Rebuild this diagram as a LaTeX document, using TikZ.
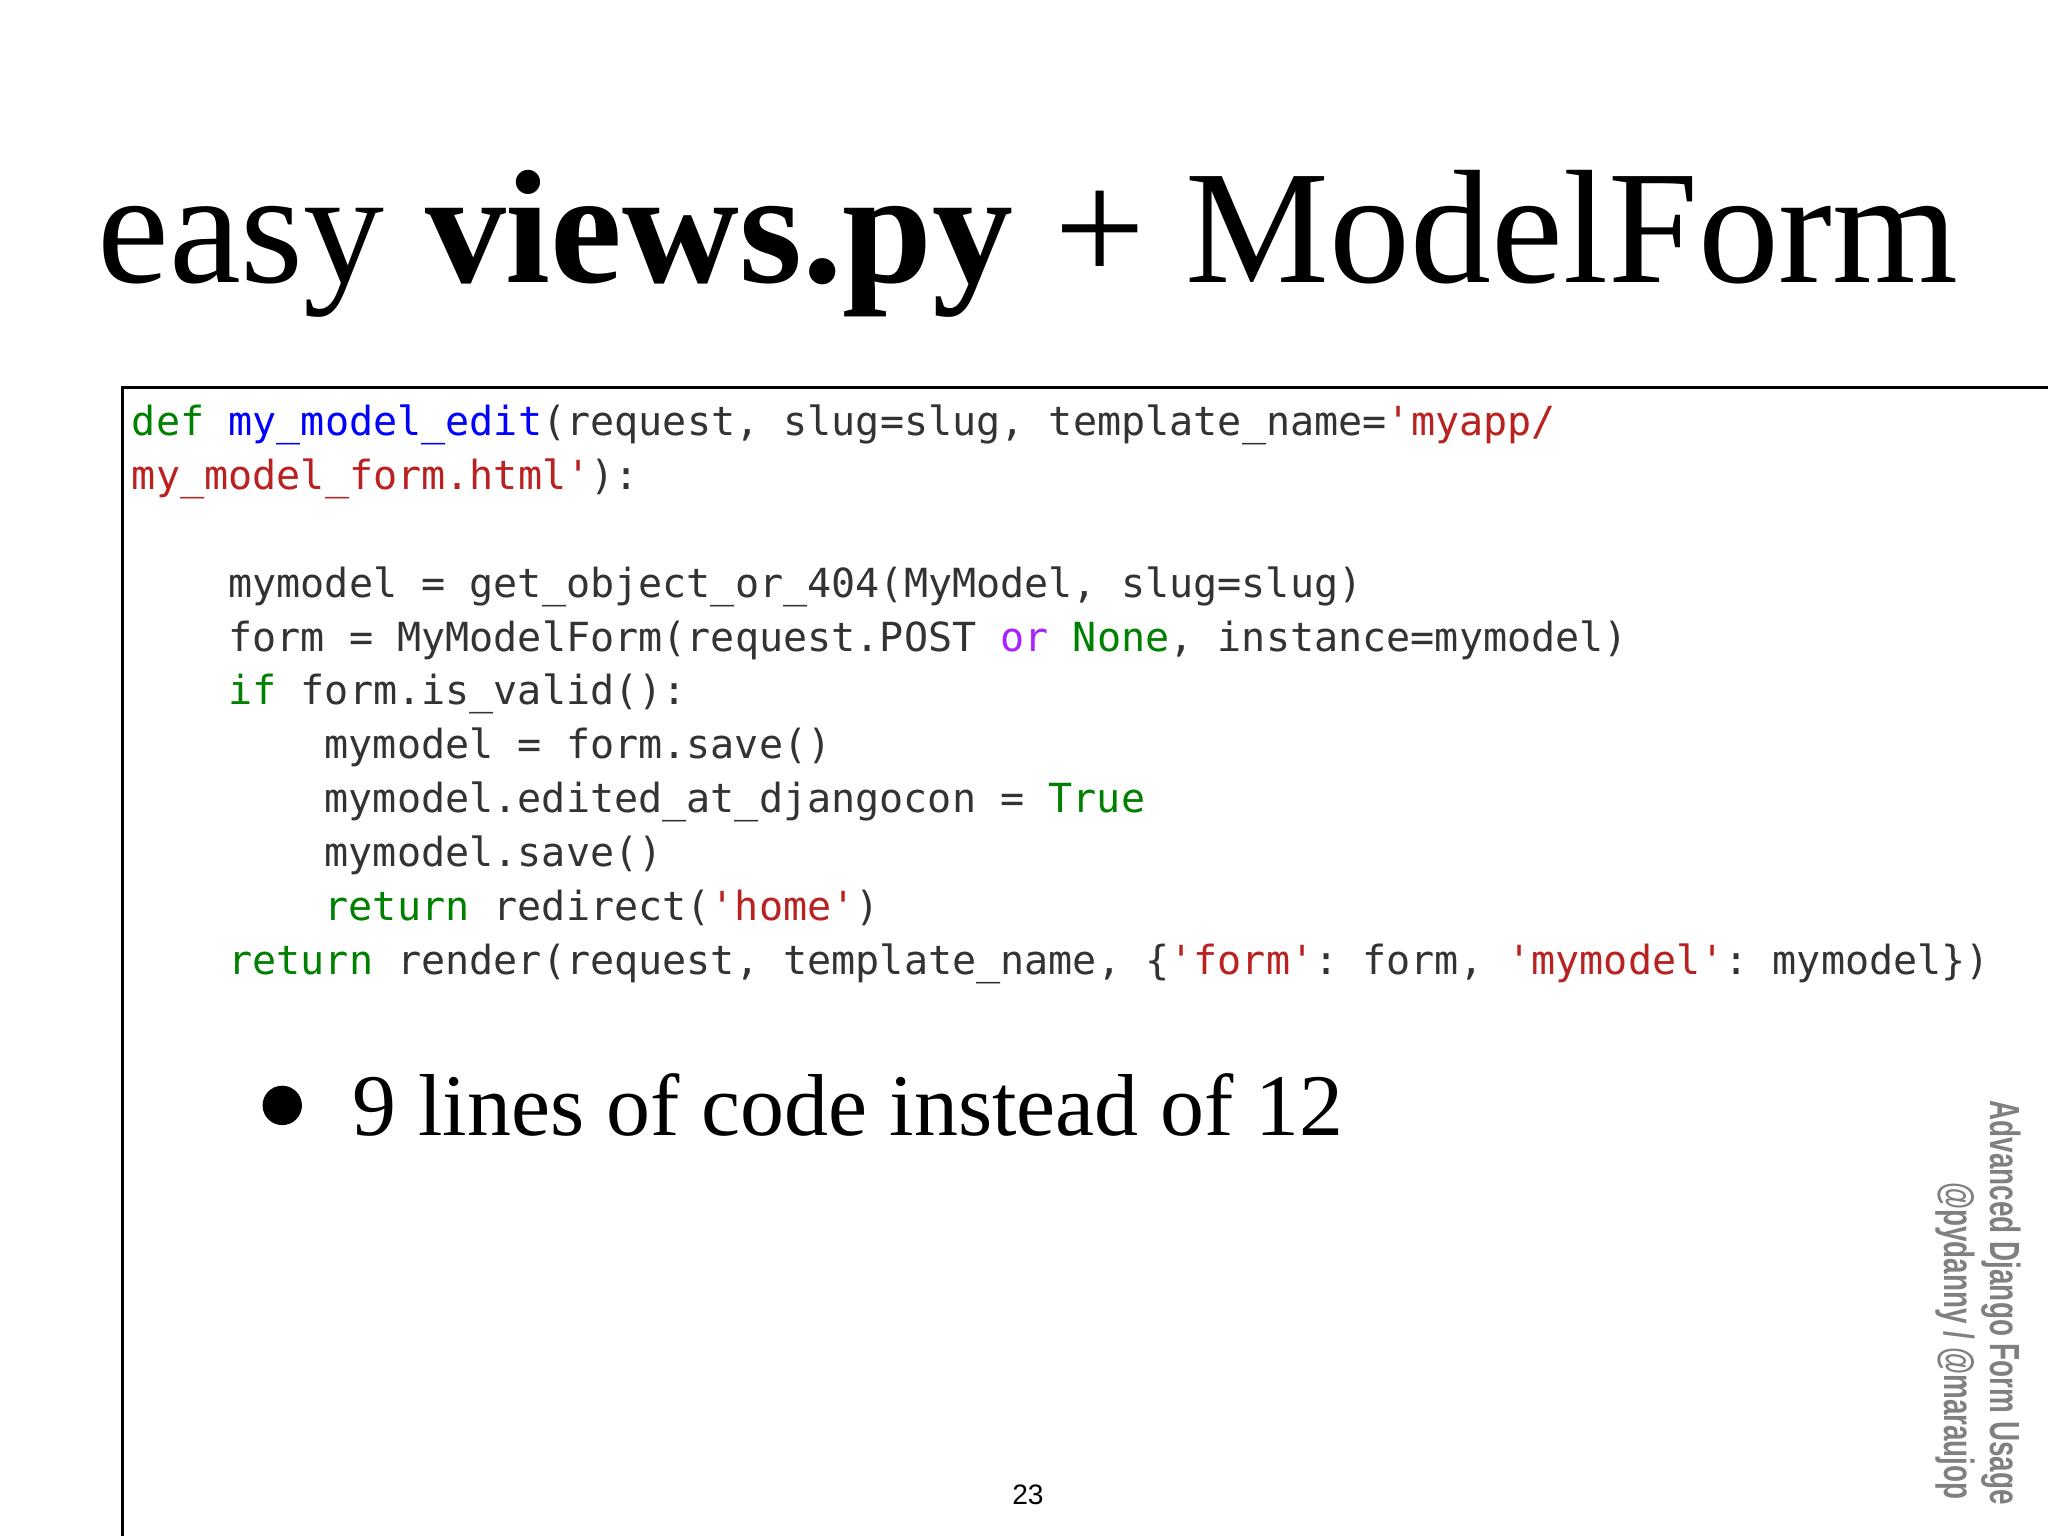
\documentclass[tikz,border=0pt]{standalone}
\usepackage{fontspec}
\setmainfont{Liberation Serif}
\setmonofont{DejaVu Sans Mono}
\setsansfont{Liberation Sans}
\definecolor{kw}{RGB}{0,128,0}
\definecolor{fn}{RGB}{0,0,255}
\definecolor{st}{RGB}{186,33,33}
\definecolor{op}{RGB}{170,34,255}
\definecolor{tx}{RGB}{51,51,51}
\newcommand{\K}[1]{\textcolor{kw}{#1}}
\newcommand{\F}[1]{\textcolor{fn}{#1}}
\newcommand{\Sg}[1]{\textcolor{st}{#1}}
\newcommand{\Op}[1]{\textcolor{op}{#1}}
\tikzset{code/.style={anchor=base west,inner sep=0pt,font=\fontsize{11.4}{13}\ttfamily,text=tx}}
\begin{document}
\begin{tikzpicture}[x=0.013128cm,y=-0.013128cm]
\useasboundingbox[fill=white] (0,0) rectangle (1560,1170);
\node[anchor=base,inner sep=0pt,font=\fontsize{46}{50}\selectfont] (title) at (783,215) {easy \textbf{views.py} + ModelForm};
\node[draw=black,line width=0.8pt,minimum width=1450,minimum height=467,anchor=north west,inner sep=0pt] (box) at (92,294) {};
\node[code] (l1) at (100,332) {\K{def} \F{my\_model\_edit}(request, slug=slug, template\_name=\Sg{'myapp/}};
\node[code] (l2) at (100,373) {\Sg{my\_model\_form.html'}):};
\node[code] (l3) at (173.4,455) {mymodel = get\_object\_or\_404(MyModel, slug=slug)};
\node[code] (l4) at (173.4,496) {form = MyModelForm(request.POST \Op{or} \K{None}, instance=mymodel)};
\node[code] (l5) at (173.4,537) {\K{if} form.is\_valid():};
\node[code] (l6) at (246.8,578) {mymodel = form.save()};
\node[code] (l7) at (246.8,619) {mymodel.edited\_at\_djangocon = \K{True}};
\node[code] (l8) at (246.8,660) {mymodel.save()};
\node[code] (l9) at (246.8,701) {\K{return} redirect(\Sg{'home'})};
\node[code] (l10) at (173.4,742) {\K{return} render(request, template\_name, \{\Sg{'form'}: form, \Sg{'mymodel'}: mymodel\})};
\fill (215,842) circle (15);
\node[anchor=base west,inner sep=0pt,font=\fontsize{25}{28}\selectfont] (bullet) at (268,865) {9 lines of code instead of 12};
\node[anchor=base,inner sep=0pt,font=\sffamily\fontsize{8}{9}\selectfont] (page) at (783,1146) {23};
\node[rotate=-90,anchor=north west,inner sep=0pt,text=gray,font=\sffamily\bfseries\fontsize{12}{14}\selectfont] (c1) at (1540,838) {\scalebox{0.66}[1]{Advanced Django Form Usage}};
\node[rotate=-90,anchor=north west,inner sep=0pt,text=gray,font=\sffamily\bfseries\fontsize{12}{14}\selectfont] (c2) at (1505,900) {\scalebox{0.66}[1]{@pydanny / @maraujop}};
\end{tikzpicture}
\end{document}
